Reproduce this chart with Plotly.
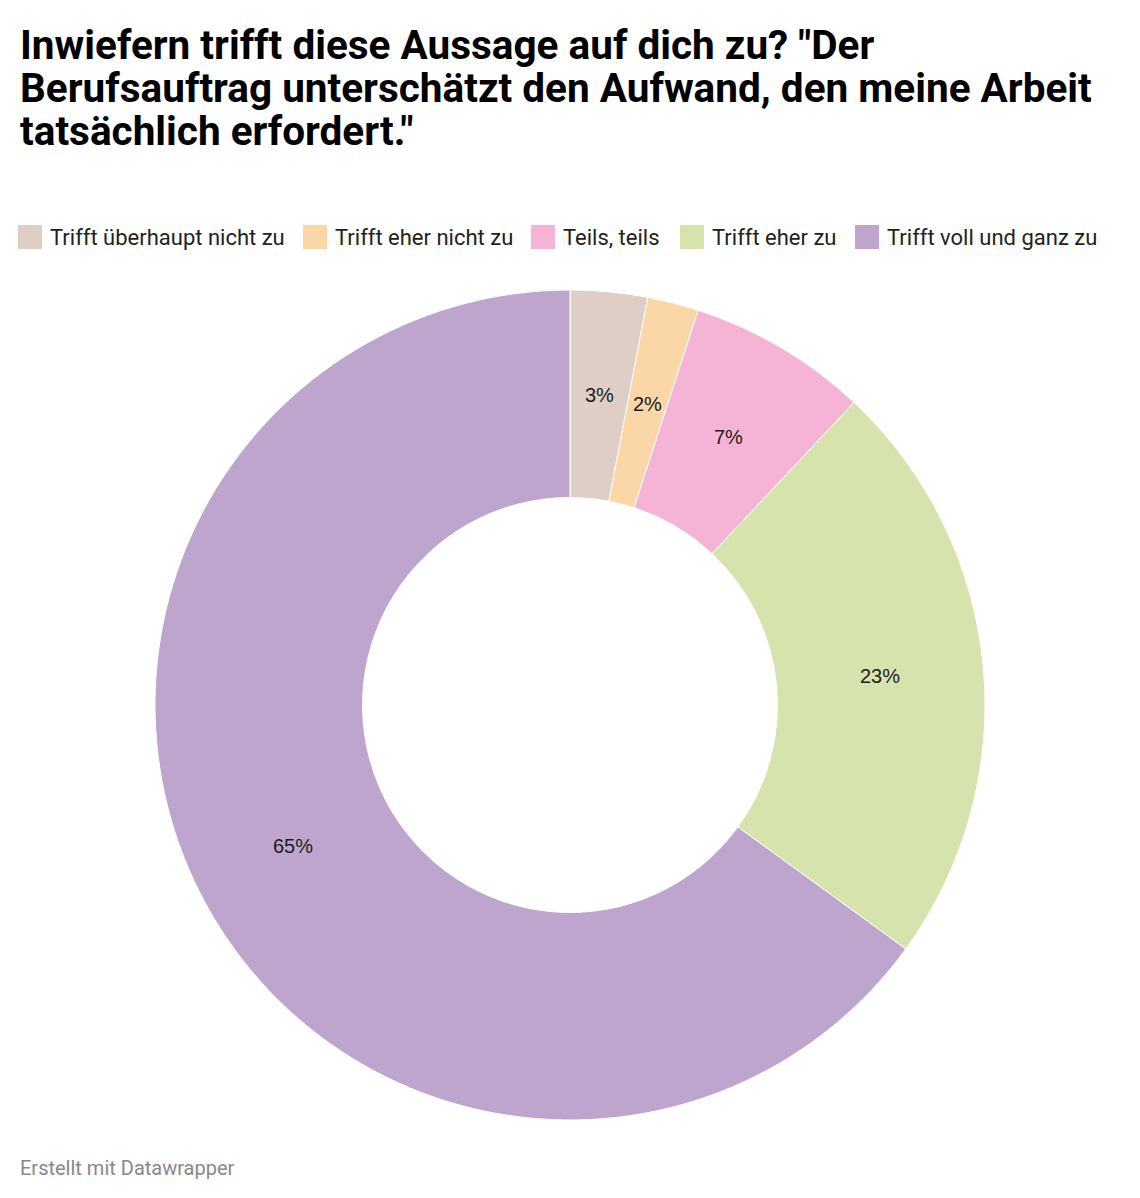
import math
import plotly.graph_objects as go

categories = ["Trifft überhaupt nicht zu", "Trifft eher nicht zu", "Teils, teils",
              "Trifft eher zu", "Trifft voll und ganz zu"]
values = [3, 2, 7, 23, 65]
colors = ["#dfcec5", "#fbd6a6", "#f5b4d6", "#d6e3ad", "#bda5cd"]

title_lines = ["Inwiefern trifft diese Aussage auf dich zu? \"Der",
               "Berufsauftrag unterschätzt den Aufwand, den meine Arbeit",
               "tatsächlich erfordert.\""]
footer = "Erstellt mit Datawrapper"

W, H = 1140, 1198
OFF = 8  # page body margin
CX, CY, R = 570, 705, 415
HOLE = 0.5


def px(x):
    return (x - OFF) / W


def py(y):
    return 1 - (y - OFF) / H


fig = go.Figure(go.Pie(
    labels=categories,
    values=values,
    sort=False,
    direction="clockwise",
    rotation=0,
    hole=HOLE,
    marker=dict(colors=colors, line=dict(color="white", width=1)),
    textinfo="none",
    showlegend=False,
    domain=dict(x=[px(CX - R), px(CX + R)], y=[py(CY + R), py(CY - R)]),
    hoverinfo="label+value",
))

annotations = []
shapes = []

# title, one annotation per line
for i, line in enumerate(title_lines):
    annotations.append(dict(
        text="<b>" + line + "</b>", x=px(18), xanchor="left", y=py(45 + 43 * i), yanchor="middle",
        xref="paper", yref="paper", showarrow=False,
        font=dict(family="Roboto", size=40.5, color="#000000"),
    ))

# slice labels at the middle of the ring
total = sum(values)
rm = R * (1 + HOLE) / 2
cum = 0
for v in values:
    theta = 2 * math.pi * (cum + v / 2) / total
    cum += v
    annotations.append(dict(
        text=f"{v}%", x=px(CX + rm * math.sin(theta)), y=py(CY - rm * math.cos(theta)),
        xref="paper", yref="paper", showarrow=False, xanchor="center", yanchor="middle",
        font=dict(family="Liberation Sans, Arial", size=20, color="#1d1d1d"),
    ))

# legend
legend_x = [18, 303, 531, 680, 855]
for lx, cat, col in zip(legend_x, categories, colors):
    shapes.append(dict(type="rect", xref="paper", yref="paper",
                       x0=px(lx), x1=px(lx + 24), y0=py(249), y1=py(225),
                       fillcolor=col, line=dict(width=0)))
    annotations.append(dict(
        text=cat, x=px(lx + 30), xanchor="left", y=py(237), yanchor="middle",
        xref="paper", yref="paper", showarrow=False,
        font=dict(family="Roboto", size=22, color="#222222"),
    ))

annotations.append(dict(
    text=footer, x=px(18), xanchor="left", y=py(1168), yanchor="middle",
    xref="paper", yref="paper", showarrow=False,
    font=dict(family="Roboto", size=20, color="#888888"),
))

fig.update_layout(
    width=W, height=H,
    margin=dict(l=0, r=0, t=0, b=0),
    paper_bgcolor="white",
    font=dict(family="Roboto", color="#1a1a1a"),
    annotations=annotations,
    shapes=shapes,
)

fig.write_html("out.html")
